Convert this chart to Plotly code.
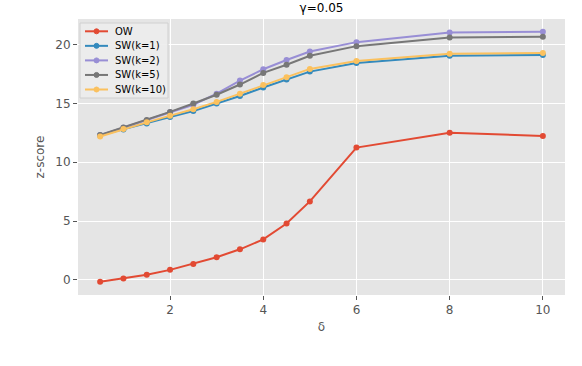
import plotly.graph_objects as go

# valores de delta
delta = [0.5, 1, 1.5, 2, 2.5, 3, 3.5, 4, 4.5, 5, 6, 8, 10]

ow = [-0.17, 0.11, 0.42, 0.84, 1.35, 1.92, 2.59, 3.43, 4.78, 6.67, 11.25, 12.51, 12.24]
sw_k1 = [12.3, 12.8, 13.3, 13.86, 14.37, 15.0, 15.64, 16.37, 17.05, 17.72, 18.46, 19.07, 19.13]
sw_k2 = [12.3, 12.95, 13.55, 14.25, 14.9, 15.84, 16.96, 17.92, 18.71, 19.43, 20.23, 21.04, 21.12]
sw_k5 = [12.32, 12.97, 13.59, 14.29, 15.0, 15.75, 16.62, 17.61, 18.31, 19.07, 19.89, 20.62, 20.68]
sw_k10 = [12.2, 12.83, 13.4, 13.97, 14.51, 15.14, 15.84, 16.57, 17.24, 17.95, 18.62, 19.24, 19.3]

nombres = ['OW', 'SW(k=1)', 'SW(k=2)', 'SW(k=5)', 'SW(k=10)']
colores = ['#E24A33', '#348ABD', '#988ED5', '#777777', '#FBC15E']
datos = [ow, sw_k1, sw_k2, sw_k5, sw_k10]

fig = go.Figure()

for nombre, valores, color in zip(nombres, datos, colores):
    fig.add_trace(go.Scatter(
        x=delta, y=valores, name=nombre, mode='lines+markers',
        line=dict(color=color, width=2),
        marker=dict(color=color, size=6),
    ))

# area del grafico en pixeles (para la leyenda hecha a mano)
L, R, T, B = 78, 565, 19, 295
def px(x):
    return (x - L) / (R - L)
def py(y):
    return (B - y) / (B - T)

# leyenda compacta estilo matplotlib
fig.add_shape(type='rect', xref='paper', yref='paper',
              x0=px(80), x1=px(168), y0=py(98), y1=py(23),
              fillcolor='rgba(236,236,236,0.9)', line=dict(color='#D0D0D0', width=1))
for i, (nombre, color) in enumerate(zip(nombres, colores)):
    yy = 31.3 + i * 14.55
    fig.add_shape(type='line', xref='paper', yref='paper',
                  x0=px(85), x1=px(108), y0=py(yy), y1=py(yy),
                  line=dict(color=color, width=2))
    fig.add_shape(type='circle', xref='paper', yref='paper',
                  x0=px(94), x1=px(99), y0=py(yy + 2.5), y1=py(yy - 2.5),
                  fillcolor=color, line=dict(color=color, width=1))
    fig.add_annotation(text=nombre, xref='paper', yref='paper',
                       x=px(113), y=py(yy), xanchor='left', yanchor='middle',
                       showarrow=False, font=dict(size=10, color='black'))

fig.update_layout(
    width=582, height=366,
    margin=dict(l=L, r=582 - R, t=T, b=366 - B),
    paper_bgcolor='white',
    plot_bgcolor='#E5E5E5',
    font=dict(family='DejaVu Sans', size=12, color='#555555'),
    title=dict(text='γ=0.05', x=0.5525, xanchor='center', y=0.99, yanchor='top',
               font=dict(size=12, color='black')),
    showlegend=False,
    xaxis=dict(
        range=[0.025, 10.475], tickvals=[2, 4, 6, 8, 10],
        showgrid=True, gridcolor='white', gridwidth=1,
        zeroline=False, ticks='outside', ticklen=4, tickcolor='#555555',
        automargin=False,
        title=dict(text='δ', font=dict(size=12, color='#555555'), standoff=6),
    ),
    yaxis=dict(
        range=[-1.3, 22.2], tickvals=[0, 5, 10, 15, 20],
        showgrid=True, gridcolor='white', gridwidth=1,
        zeroline=False, ticks='outside', ticklen=4, tickcolor='#555555',
        automargin=False,
        title=dict(text='z-score', font=dict(size=12, color='#555555'), standoff=8),
    ),
)

# pie de figura cortado al fondo
fig.add_annotation(
    text='Figure 2:  We compared the z-scores of the watermark detection',
    xref='paper', yref='paper', x=-0.16, y=-0.25, xanchor='left', yanchor='top',
    showarrow=False, font=dict(family='Liberation Serif', size=16, color='black'),
)

fig.write_html('out.html', config={'displayModeBar': False},
               post_script="document.body.style.margin='0px';")
